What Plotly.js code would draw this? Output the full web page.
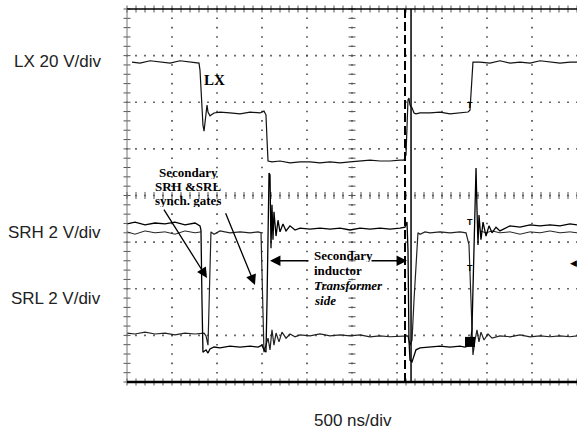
<!DOCTYPE html>
<html>
<head>
<meta charset="utf-8">
<script src="https://cdn.plot.ly/plotly-3.0.1.min.js"></script>
<style>
html,body{margin:0;padding:0;background:#fff;}
#chart{width:577px;height:441px;}
</style>
</head>
<body>
<div id="chart"></div>
<script>
// Time axis in ns (500 ns/div, 10 div), vertical axis in screen divisions (8 div)
var lxTime = [56,144,256,367,478,589,700,800,811,822,833,844,856,867,878,889,900,922,967,1033,1144,1256,1367,1478,1522,1544,1556,1567,1611,1700,1811,1922,2033,2144,2256,2367,2478,2589,2700,2811,2922,3033,3078,3100,3111,3122,3133,3144,3167,3189,3211,3256,3367,3478,3589,3700,3756,3789,3811,3822,3833,3844,3922,4033,4144,4256,4367,4478,4589,4700,4811,4922,5000];
var lxDiv  = [6.86,6.84,6.89,6.86,6.84,6.89,6.86,6.84,6.69,6.17,5.83,5.51,5.38,5.62,5.79,5.94,5.79,5.71,5.77,5.79,5.77,5.75,5.79,5.77,5.81,5.73,5.19,4.74,4.72,4.74,4.70,4.72,4.72,4.70,4.72,4.70,4.72,4.74,4.76,4.74,4.74,4.76,4.76,4.87,5.41,6.05,6.09,5.94,5.88,5.77,5.75,5.77,5.77,5.79,5.75,5.77,5.77,5.79,5.83,6.26,6.69,6.86,6.86,6.84,6.89,6.84,6.86,6.84,6.89,6.86,6.84,6.86,6.86];

var srhTime = [0,89,200,311,422,533,644,756,811,822,833,844,878,900,922,967,1033,1144,1256,1367,1456,1500,1522,1544,1556,1567,1578,1589,1600,1611,1622,1633,1656,1678,1700,1733,1767,1811,1867,1922,2033,2144,2256,2367,2478,2589,2700,2811,2922,3033,3089,3111,3122,3133,3144,3167,3189,3211,3256,3367,3478,3589,3700,3756,3811,3833,3856,3867,3878,3889,3900,3911,3933,3956,3989,4022,4056,4100,4144,4256,4367,4478,4589,4700,4811,4922,5000];
var srhDiv  = [3.39,3.43,3.37,3.41,3.39,3.43,3.37,3.41,3.35,3.26,1.76,0.64,0.69,0.62,0.71,0.75,0.73,0.77,0.75,0.77,0.75,0.79,0.69,0.64,1.76,3.26,4.48,4.44,2.87,3.80,3.05,3.65,3.13,3.47,3.22,3.39,3.24,3.35,3.26,3.30,3.28,3.30,3.28,3.30,3.26,3.30,3.28,3.30,3.28,3.30,3.32,3.43,2.83,0.90,0.47,0.43,0.58,0.69,0.73,0.75,0.77,0.75,0.77,0.75,0.79,1.12,2.83,4.12,4.59,3.69,2.94,3.58,3.05,3.43,3.13,3.35,3.20,3.32,3.24,3.35,3.32,3.37,3.35,3.37,3.35,3.39,3.37];

var srlTime = [0,89,200,311,422,533,644,756,856,878,900,911,922,933,967,1033,1144,1256,1367,1456,1489,1500,1511,1522,1544,1567,1589,1611,1633,1656,1689,1722,1767,1811,1867,1922,2033,2144,2256,2367,2478,2589,2700,2811,2922,3033,3122,3144,3167,3189,3211,3233,3256,3311,3367,3478,3589,3700,3767,3800,3822,3844,3867,3889,3911,3933,3967,4011,4056,4144,4256,4367,4478,4589,4700,4811,4922,5000];
var srlDiv  = [1.05,1.03,1.07,1.03,1.05,1.01,1.05,1.03,1.05,0.99,0.79,1.76,2.62,3.22,3.17,3.24,3.20,3.22,3.20,3.22,3.20,2.19,0.90,0.64,0.79,0.94,0.69,1.12,0.79,1.05,0.86,1.07,0.94,1.03,0.97,1.01,0.99,1.03,0.99,1.01,0.99,1.01,0.97,0.99,0.97,0.99,0.99,0.79,0.90,1.76,2.62,3.20,3.17,3.22,3.20,3.22,3.20,3.22,3.20,2.94,1.76,0.58,0.90,1.12,0.86,1.07,0.90,1.03,0.94,0.99,0.97,1.01,0.97,0.99,0.97,0.99,0.97,0.99];

// second (persistence) sweep of the SRH gate
var srh2Time = [0,89,200,311,422,533,644,756,822,null,3922,3989,4056,4144,4256,4367,4478,4589,4700,4811,4922,5000];
var srh2Div  = [3.22,3.17,3.24,3.20,3.22,3.17,3.24,3.20,3.22,null,3.24,3.20,3.24,3.20,3.22,3.17,3.22,3.20,3.24,3.20,3.22,3.20];

var cursorTimes = [3089, 3156];   // dashed, solid
var channelLabels = ["LX 20 V/div", "SRH 2 V/div", "SRL 2 V/div"];
var timeLabel = "500 ns/div";

// ---- graticule (decoration) ----
var gx=[], gy=[];
for (var i=1;i<=9;i++){ for (var j=0;j<=40;j++){ gx.push(i*500); gy.push(j*0.2); } }
for (var k=1;k<=7;k++){ for (var m=0;m<=50;m++){ gx.push(m*100); gy.push(k); } }
var hx=[],hy=[]; // short horizontal ticks (on vertical lines)
var vx=[],vy=[]; // short vertical ticks (on horizontal lines)
for (var j2=0;j2<=40;j2++){ hx.push(2500); hy.push(j2*0.2); hx.push(0); hy.push(j2*0.2); }
for (var m2=0;m2<=50;m2++){ vx.push(m2*100); vy.push(4); vx.push(m2*100); vy.push(8); vx.push(m2*100); vy.push(0); }

var traces = [
 {x:gx,y:gy,mode:'markers',type:'scatter',cliponaxis:false,hoverinfo:'skip',
  marker:{symbol:'square',size:1.6,color:'#444',line:{width:0}}},
 {x:hx,y:hy,mode:'markers',type:'scatter',cliponaxis:false,hoverinfo:'skip',
  marker:{symbol:'line-ew',size:5,line:{width:1,color:'#555'}}},
 {x:vx,y:vy,mode:'markers',type:'scatter',cliponaxis:false,hoverinfo:'skip',
  marker:{symbol:'line-ns',size:5,line:{width:1,color:'#555'}}},
 {x:lxTime,y:lxDiv,mode:'lines',type:'scatter',line:{color:'#111',width:1.2}},
 {x:srh2Time,y:srh2Div,mode:'lines',type:'scatter',connectgaps:false,line:{color:'#222',width:1}},
 {x:srlTime,y:srlDiv,mode:'lines',type:'scatter',line:{color:'#222',width:1.2}},
 {x:srhTime,y:srhDiv,mode:'lines',type:'scatter',line:{color:'#000',width:1.3}},
 {x:[3811],y:[0.86],mode:'markers',type:'scatter',marker:{symbol:'square',size:10,color:'#000'}}
];

var serif = 'Liberation Serif, Times New Roman, serif';
var sans = 'Liberation Sans, Arial, Helvetica, sans-serif';
function ann(x,y,t,opt){
  var a={x:x,y:y,xref:'x',yref:'y',text:t,showarrow:false,yanchor:'middle',
    font:{family:serif,size:13,color:'#000'}};
  for (var k in opt) a[k]=opt[k];
  return a;
}
function arrow(x,y,ax,ay){
  return {x:x,y:y,ax:ax,ay:ay,xref:'x',yref:'y',axref:'x',ayref:'y',text:'',
    showarrow:true,arrowhead:2,arrowsize:1.6,arrowwidth:1.3,arrowcolor:'#000'};
}
var annotations = [
  ann(967,6.48,'<b>LX</b>',{font:{family:serif,size:15,color:'#000'}}),
  ann(678,4.50,'<b>Secondary</b>',{height:13}),
  ann(678,4.20,'<b>SRH &amp;SRL</b>',{height:13}),
  ann(678,3.90,'<b>synch. gates</b>',{height:13}),
  arrow(889,2.23,400,3.73),
  arrow(1422,2.08,1089,3.65),
  arrow(1589,2.60,2033,2.60),
  arrow(3111,2.60,2700,2.60),
  ann(2056,2.72,'<b>Secondary</b>',{xanchor:'left',height:14}),
  ann(2056,2.40,'<b>inductor</b>',{xanchor:'left',height:14}),
  ann(2056,2.08,'<b><i>Transformer</i></b>',{xanchor:'left',height:14}),
  ann(2056,1.76,'<b><i>side</i></b>',{xanchor:'left',height:14}),
  ann(4956,2.55,'◀',{font:{family:'DejaVu Sans',size:9,color:'#000'}}),
  ann(3811,5.94,'<b>T</b>',{font:{family:sans,size:9,color:'#000'}}),
  ann(3811,3.43,'<b>T</b>',{font:{family:sans,size:9,color:'#000'}}),
  ann(3811,2.45,'<b>T</b>',{font:{family:sans,size:9,color:'#000'}}),
  {xref:'paper',yref:'paper',x:-0.053,y:0.858,xanchor:'right',yanchor:'middle',text:channelLabels[0],showarrow:false,font:{family:sans,size:17,color:'#222'}},
  {xref:'paper',yref:'paper',x:-0.053,y:0.402,xanchor:'right',yanchor:'middle',text:channelLabels[1],showarrow:false,font:{family:sans,size:17,color:'#222'}},
  {xref:'paper',yref:'paper',x:-0.053,y:0.225,xanchor:'right',yanchor:'middle',text:channelLabels[2],showarrow:false,font:{family:sans,size:17,color:'#222'}},
  {xref:'paper',yref:'paper',x:0.502,y:-0.102,xanchor:'center',yanchor:'middle',text:timeLabel,showarrow:false,font:{family:sans,size:17,color:'#222'}}
];

var shapes = [
  {type:'line',xref:'paper',yref:'paper',x0:0,x1:1,y0:1,y1:1,line:{color:'#000',width:1.5}},
  {type:'line',xref:'paper',yref:'paper',x0:0,x1:0,y0:0,y1:1,line:{color:'#777',width:1}},
  {type:'line',xref:'paper',yref:'paper',x0:0,x1:1,y0:0,y1:0,line:{color:'#000',width:2.5}},
  {type:'line',xref:'x',yref:'paper',x0:cursorTimes[0],x1:cursorTimes[0],y0:0,y1:1,line:{color:'#000',width:2,dash:'9px,4px'}},
  {type:'line',xref:'x',yref:'paper',x0:cursorTimes[1],x1:cursorTimes[1],y0:0,y1:1,line:{color:'#000',width:1.5}}
];

var layout = {
  width:577,height:441,
  margin:{l:127,r:0,t:9,b:59,pad:0},
  paper_bgcolor:'#fff',plot_bgcolor:'#fff',
  showlegend:false,
  xaxis:{range:[0,5000],showgrid:false,zeroline:false,showticklabels:false,ticks:'',showline:false,fixedrange:true},
  yaxis:{range:[0,8],showgrid:false,zeroline:false,showticklabels:false,ticks:'',showline:false,fixedrange:true},
  annotations:annotations,
  shapes:shapes
};
Plotly.newPlot('chart',traces,layout,{displayModeBar:false,staticPlot:true});
</script>
</body>
</html>
